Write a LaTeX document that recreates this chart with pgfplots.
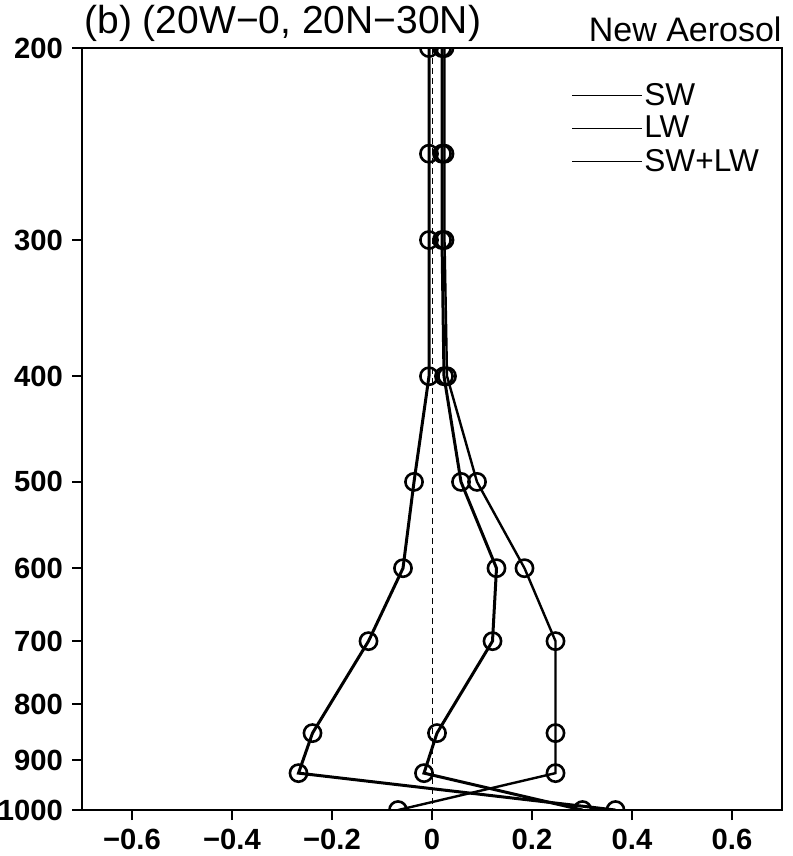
\documentclass[border=0pt]{standalone}
\usepackage{pgfplots}
\pgfplotsset{compat=1.18}
\usepackage{fontspec}
\setmainfont{Liberation Sans}

\begin{document}
\begin{tikzpicture}
\begin{axis}[
    name=ax,
    width=350pt,
    height=381pt,
    scale only axis,
    xmin=-0.7, xmax=0.7,
    ymode=log,
    ymin=200, ymax=1000,
    y dir=reverse,
    xtick={-0.6,-0.4,-0.2,0,0.2,0.4,0.6},
    xticklabels={−0.6,−0.4,−0.2,0,0.2,0.4,0.6},
    ytick={200,300,400,500,600,700,800,900,1000},
    yticklabels={200,300,400,500,600,700,800,900,1000},
    minor ytick={},
    tick pos=left,
    tick align=outside,
    major tick length=5pt,
    axis line style={line width=1.4pt},
    every tick/.style={line width=1pt, black},
    tick label style={font=\bfseries\fontsize{14.6}{16}\selectfont},
    xticklabel style={yshift=-1pt},
    yticklabel style={xshift=-1pt},
    clip marker paths=true,
    axis on top,
    legend style={
        at={(0.690,0.962)}, anchor=north west,
        draw=none, fill=none,
        font=\fontsize{15.8}{16}\selectfont,
        row sep=2.5pt,
        nodes={inner sep=0.8pt},
    },
    legend cell align=left,
    legend image code/.code={\draw[line width=0.7pt] (0pt,0pt) -- (35pt,0pt);},
]

% zero line
\addplot[thin, densely dashed, forget plot] coordinates {(0,200) (0,1000)};

% SW
\addplot[line width=1.2pt, mark=o, mark size=4.3pt,
    mark options={fill=white, line width=1.3pt, solid}]
coordinates {
    (0.025,200) (0.025,250) (0.025,300) (0.030,400) (0.090,500)
    (0.185,600) (0.247,700) (0.247,850) (0.247,925) (-0.068,1000)
};
\addlegendentry{SW}

% LW
\addplot[line width=1.5pt, mark=o, mark size=4.3pt,
    mark options={fill=white, line width=1.3pt, solid}]
coordinates {
    (-0.006,200) (-0.006,250) (-0.006,300) (-0.006,400) (-0.036,500)
    (-0.058,600) (-0.127,700) (-0.239,850) (-0.267,925) (0.367,1000)
};
\addlegendentry{LW}

% SW+LW
\addplot[line width=1.5pt, mark=o, mark size=4.3pt,
    mark options={fill=white, line width=1.3pt, solid}]
coordinates {
    (0.020,200) (0.020,250) (0.020,300) (0.024,400) (0.058,500)
    (0.129,600) (0.121,700) (0.010,850) (-0.016,925) (0.301,1000)
};
\addlegendentry{SW+LW}

\end{axis}

\node[anchor=south west, inner sep=0pt, font=\fontsize{19.5}{21}\selectfont]
    at ([xshift=1pt, yshift=3pt]ax.north west) {(b) (20W−0, 20N−30N)};
\node[anchor=south east, inner sep=0pt, font=\fontsize{17}{18}\selectfont]
    at ([yshift=3pt]ax.north east) {New Aerosol};

\pgfresetboundingbox
\path[use as bounding box] ([xshift=-41pt, yshift=-23pt]ax.south west)
    rectangle ([xshift=5pt, yshift=24pt]ax.north east);
\end{tikzpicture}
\end{document}
